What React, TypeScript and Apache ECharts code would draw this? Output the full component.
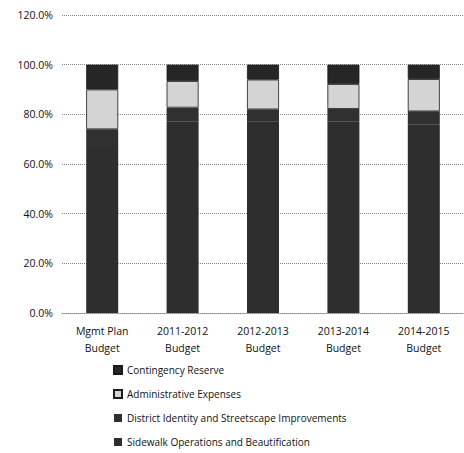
import React, { useEffect, useRef } from "react";
import * as echarts from "echarts";

const categories = ["Mgmt Plan\nBudget", "2011-2012\nBudget", "2012-2013\nBudget", "2013-2014\nBudget", "2014-2015\nBudget"];
const sidewalk = [66, 77, 77, 77, 76];
const district = [8, 5.7, 5, 5.2, 5.2];
const admin = [16, 10.7, 12, 10, 13];
const contingency = [10, 6.6, 6, 7.8, 5.8];
const yTicks = [0, 20, 40, 60, 80, 100, 120];

export default function App() {
  const ref = useRef<HTMLDivElement>(null);
  useEffect(() => {
    const chart = echarts.init(ref.current!, null, { renderer: "svg" });
    const font = "'Open Sans', sans-serif";
    const mk = (name: string, data: number[], color: string, border: number) => ({
      name,
      type: "bar",
      stack: "total",
      data,
      barWidth: 32,
      itemStyle: { color, borderColor: "#1a1a1a", borderWidth: border },
    });
    chart.setOption({
      animation: false,
      backgroundColor: "#ffffff",
      grid: { left: 62, right: -7, top: 15, bottom: 140 },
      xAxis: {
        type: "category",
        data: categories,
        axisTick: { show: false },
        axisLine: { lineStyle: { color: "#888", type: "dotted", width: 1 } },
        axisLabel: { color: "#111", fontFamily: font, fontSize: 10.5, lineHeight: 17, margin: 9, interval: 0 },
      },
      yAxis: {
        type: "value",
        min: yTicks[0],
        max: yTicks[yTicks.length - 1],
        interval: 20,
        axisLine: { show: false },
        axisTick: { show: false },
        splitLine: { lineStyle: { color: "#888", type: "dotted", width: 1 } },
        axisLabel: {
          color: "#111",
          fontFamily: font,
          fontSize: 10.5,
          margin: 9,
          formatter: (v: number) => v.toFixed(1) + "%",
        },
      },
      legend: {
        orient: "vertical",
        left: 113,
        top: 363,
        height: 90,
        padding: 0,
        itemWidth: 8,
        itemHeight: 8,
        itemGap: 10,
        icon: "rect",
        textStyle: { color: "#111", fontFamily: font, fontSize: 10, lineHeight: 14, height: 14 },
        data: [
          "Contingency Reserve",
          "Administrative Expenses",
          "District Identity and Streetscape Improvements",
          "Sidewalk Operations and Beautification",
        ],
      },
      series: [
        mk("Sidewalk Operations and Beautification", sidewalk, "#2e2e2e", 0),
        mk("District Identity and Streetscape Improvements", district, "#303030", 0),
        mk("Administrative Expenses", admin, "#d4d4d4", 0.8),
        mk("Contingency Reserve", contingency, "#262626", 0.8),
      ],
    });
    return () => chart.dispose();
  }, []);
  return <div ref={ref} style={{ width: 464, height: 453, position: "absolute", left: 0, top: 0 }} />;
}
